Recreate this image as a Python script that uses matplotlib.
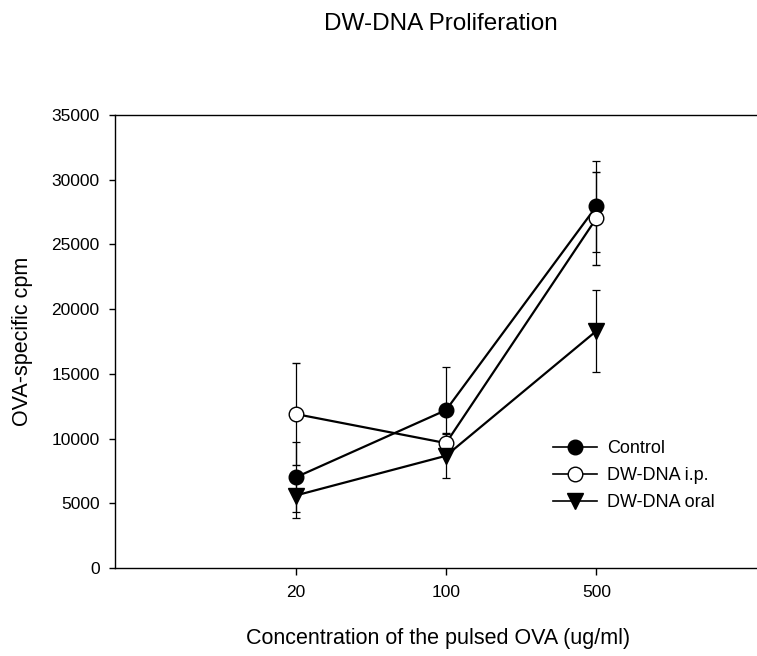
import matplotlib
matplotlib.use("Agg")
import matplotlib.pyplot as plt
from matplotlib.lines import Line2D
import numpy as np

plt.rcParams['font.family'] = ['Liberation Sans', 'DejaVu Sans']

categories = ["20", "100", "500"]
control = [7000, 12200, 27950]
control_err = [2700, 3300, 3500]
ip = [11900, 9650, 27030]
ip_err = [3950, 770, 3600]
oral = [5600, 8670, 18320]
oral_err = [1700, 1700, 3150]
y_ticks = [0, 5000, 10000, 15000, 20000, 25000, 30000, 35000]

W, H = 757, 656
fig = plt.figure(figsize=(W/100, H/100), dpi=100)
ax = fig.add_axes([115/W, 1-568/H, 662/W, 453/H])

x = np.arange(len(categories))
kw = dict(color='black', lw=1.6, elinewidth=0.9, capsize=3, capthick=0.9)
ax.errorbar(x, control, yerr=control_err, marker='o', ms=10.5, mfc='black', mec='black', **kw)
ax.errorbar(x, ip, yerr=ip_err, marker='o', ms=10.5, mfc='white', mec='black', mew=1.0, **kw)
ax.errorbar(x, oral, yerr=oral_err, marker='v', ms=11.5, mfc='black', mec='black', **kw)

ax.set_xlim(-1.2, 3.2)
ax.set_ylim(0, 35000)
ax.set_xticks(x)
ax.set_xticklabels(categories, fontsize=12.5)
ax.set_yticks(y_ticks)
ax.set_yticklabels([str(v) for v in y_ticks], fontsize=12.5)
ax.tick_params(axis='x', direction='out', length=5, width=1, pad=7)
ax.tick_params(axis='y', direction='out', length=4, width=1, pad=7)
for s in ax.spines.values():
    s.set_linewidth(1.0)

ax.set_xlabel("Concentration of the pulsed OVA (ug/ml)", fontsize=15.5)
ax.xaxis.set_label_coords((438.5-115)/662, -(628-568)/453)
ax.set_ylabel("OVA-specific cpm", fontsize=15.5)
ax.yaxis.set_label_coords((33-115)/662, 0.5)
fig.text(440.5/W, 1-24/H, "DW-DNA Proliferation", ha='center', va='center', fontsize=17.5)

handles = [
    Line2D([], [], color='black', lw=1.2, marker='o', ms=10.5, mfc='black', mec='black'),
    Line2D([], [], color='black', lw=1.2, marker='o', ms=10.5, mfc='white', mec='black'),
    Line2D([], [], color='black', lw=1.2, marker='v', ms=11.5, mfc='black', mec='black'),
]
labels = ['Control', 'DW-DNA i.p.', 'DW-DNA oral']
ax.legend(handles, labels, loc='center left', bbox_to_anchor=(553/W, 1-475.7/H),
          bbox_transform=fig.transFigure, frameon=False, fontsize=13,
          handlelength=2.45, handletextpad=0.55, labelspacing=0.57,
          borderpad=0, borderaxespad=0)

fig.savefig("out.png", dpi=100)
